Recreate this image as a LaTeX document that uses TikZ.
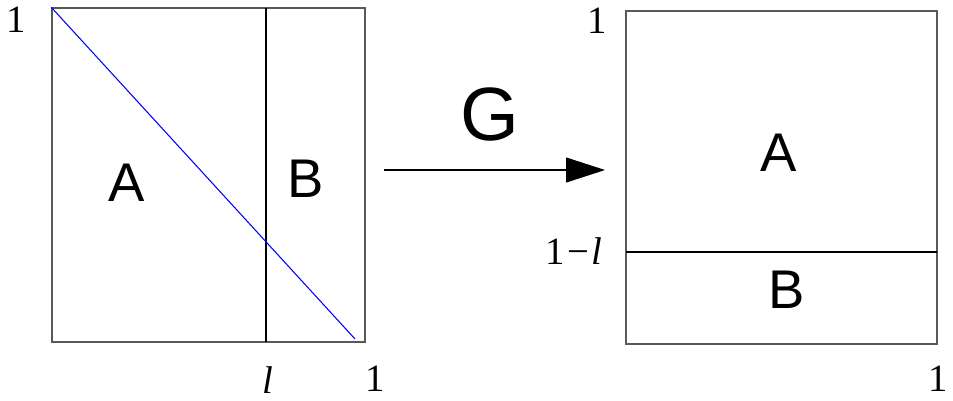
\documentclass[tikz,border=0pt]{standalone}
\usepackage{fontspec}
\setmainfont{Liberation Serif}
\newfontfamily\helv{Liberation Sans}
\usetikzlibrary{arrows.meta,positioning,calc}

\begin{document}
\begin{tikzpicture}[
    x=0.02cm, y=-0.02cm,
    frame/.style={rectangle, draw=black!65, line width=0.9pt, inner sep=0pt},
    split/.style={draw=black, line width=0.6pt},
    region/.style={font=\helv\fontsize{31}{31}\selectfont},
    tick/.style={font=\fontsize{22}{22}\selectfont, inner sep=0pt},
    map/.style={draw=black, line width=0.6pt, -{Triangle[length=0.78cm, width=0.5cm]}}
]
% Bounding box
\useasboundingbox (0,0) rectangle (953,400);

% Left square
\node[frame, minimum width=6.26cm, minimum height=6.68cm] (lbox) at (208.5,175) {};
\coordinate (lcut top) at (266,8);
\coordinate (lcut bot) at (266,342);
\draw[split] (lcut top) -- (lcut bot);
\coordinate (diag end) at (355,339);
\draw[blue, line width=0.6pt] (lbox.north west) -- (diag end);
\node[region] (la) at (127,183) {A};
\node[region] (lb) at (306,179) {B};

% Left labels
\node[tick] (l one y) at (16,20) {1};
\node[tick] (l ell) at (268,380) {\textit{l}};
\node[tick] (l one x) at (375,379) {1};

% Map arrow
\coordinate (gs) at (384,170);
\coordinate (ge) at (605,170);
\draw[map] (gs) -- (ge);
\node[font=\helv\fontsize{43}{43}\selectfont] (gmap) at (490,114) {G};

% Right square
\node[frame, minimum width=6.22cm, minimum height=6.66cm] (rbox) at (781.5,177.5) {};
\coordinate (rcut l) at (626,252);
\coordinate (rcut r) at (937,252);
\draw[split] (rcut l) -- (rcut r);
\node[region] (ra) at (779,153) {A};
\node[region] (rb) at (787,290) {B};

% Right labels
\node[tick] (r one y) at (597,21) {1};
\node[tick] (r minus) at (574,251) {1\kern1.5pt\char"2212\kern1.5pt\textit{l}};
\node[tick, anchor=east] (r one x) at (948,379) {1};
\end{tikzpicture}
\end{document}
